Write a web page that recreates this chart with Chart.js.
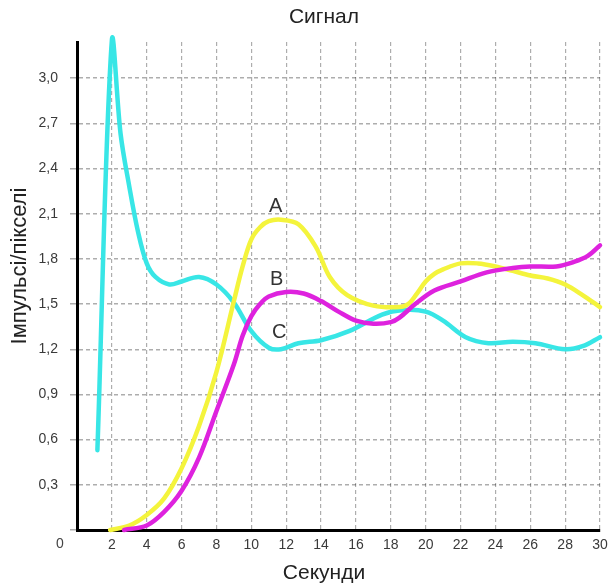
<!DOCTYPE html>
<html>
<head>
<meta charset="utf-8">
<script src="https://cdn.jsdelivr.net/npm/chart.js@4/dist/chart.umd.min.js"></script>
<style>
  body { margin: 0; background: #fff; }
  canvas { display: block; }
</style>
</head>
<body>
<canvas id="signal" width="608" height="587"></canvas>
<script>
// Curve A (yellow)
const timeA = [1.9, 3, 4, 5, 6, 7, 8, 9, 9.5, 10, 10.5, 11, 11.7, 12.7, 13.7, 14.5, 15.5, 17, 18.5, 19, 19.5, 20, 20.5, 21, 22, 23, 24, 25, 26, 27, 28, 29, 30];
const valuesA = [0, 0.03, 0.1, 0.21, 0.41, 0.69, 1.05, 1.52, 1.75, 1.93, 2.01, 2.05, 2.06, 2.03, 1.88, 1.68, 1.56, 1.49, 1.48, 1.5, 1.57, 1.65, 1.7, 1.73, 1.77, 1.77, 1.75, 1.72, 1.69, 1.67, 1.63, 1.56, 1.48];

// Curve B (magenta)
const timeB = [2.7, 4, 5, 6, 7, 8, 9, 9.5, 10, 10.5, 11, 12, 13, 14, 15, 16, 17, 18, 18.5, 19.4, 20.5, 22, 23.5, 25, 26, 27.5, 28.5, 29.3, 30];
const valuesB = [0, 0.03, 0.12, 0.26, 0.48, 0.79, 1.1, 1.29, 1.42, 1.5, 1.55, 1.58, 1.57, 1.52, 1.45, 1.39, 1.37, 1.38, 1.41, 1.5, 1.59, 1.65, 1.71, 1.74, 1.75, 1.75, 1.78, 1.82, 1.89];

// Curve C (cyan)
const timeC = [1.17, 2, 2.5, 3, 3.5, 4, 4.5, 5.3, 6, 7, 8, 9, 10, 11, 11.7, 12.7, 14, 15.6, 17.5, 18.7, 20, 21, 22.3, 23.6, 25, 26.3, 28, 29, 30];
const valuesC = [0.53, 3.25, 2.63, 2.28, 1.98, 1.77, 1.68, 1.63, 1.65, 1.68, 1.63, 1.51, 1.32, 1.21, 1.2, 1.24, 1.26, 1.32, 1.43, 1.46, 1.45, 1.39, 1.28, 1.24, 1.25, 1.24, 1.2, 1.22, 1.28];

const curveNames = ['A', 'B', 'C'];

const pairs = (xs, ys) => xs.map((x, i) => ({ x: x, y: ys[i] }));

const fontFamily = '"Liberation Sans", Arial, sans-serif';

// texts that sit outside the scales' own boxes, plus the curve letters
const textPlugin = {
    id: 'texts',
    afterDraw(chart) {
        const ctx = chart.ctx;
        const xs = chart.scales.x;
        const ys = chart.scales.y;
        ctx.save();
        ctx.textAlign = 'center';
        ctx.textBaseline = 'middle';

        ctx.fillStyle = '#222';
        ctx.font = '21px ' + fontFamily;
        ctx.fillText('Сигнал', 324, 17);
        ctx.fillText('Секунди', 324, 573);

        ctx.save();
        ctx.translate(20, 266);
        ctx.rotate(-Math.PI / 2);
        ctx.font = '22px ' + fontFamily;
        ctx.fillText('Імпульсі/пікселі', 0, 0);
        ctx.restore();

        ctx.fillStyle = '#444';
        ctx.font = '14px ' + fontFamily;
        ctx.fillText('0', xs.getPixelForValue(0) - 17, ys.getPixelForValue(0) + 14);

        // letters next to the curves
        const spots = [[11.4, 2.15], [11.45, 1.66], [11.6, 1.31]];
        ctx.fillStyle = '#333';
        ctx.font = '20px ' + fontFamily;
        curveNames.forEach((name, i) => {
            ctx.fillText(name, xs.getPixelForValue(spots[i][0]), ys.getPixelForValue(spots[i][1]));
        });
        ctx.restore();
    }
};

const lineStyle = {
    showLine: true,
    pointRadius: 0,
    borderWidth: 4.5,
    tension: 0.35,
    borderCapStyle: 'round',
    borderJoinStyle: 'round',
    clip: false
};

const ctx = document.getElementById('signal').getContext('2d');
new Chart(ctx, {
    type: 'scatter',
    data: {
        datasets: [
            // first dataset ends up on top
            Object.assign({ label: 'B', data: pairs(timeB, valuesB), borderColor: '#de22de' }, lineStyle),
            Object.assign({ label: 'A', data: pairs(timeA, valuesA), borderColor: '#f4f43c' }, lineStyle),
            Object.assign({ label: 'C', data: pairs(timeC, valuesC), borderColor: '#38e6e6' }, lineStyle)
        ]
    },
    options: {
        responsive: false,
        animation: false,
        layout: { padding: { top: 42, right: 0 } },
        plugins: {
            legend: { display: false },
            tooltip: { enabled: false },
            title: { display: false }
        },
        scales: {
            x: {
                type: 'linear',
                min: 0,
                max: 30,
                afterFit: scale => {
                    scale.height = 57;
                    scale.paddingRight = 8; // let the "30" run off the edge like the original
                },
                border: { display: true, color: '#000', width: 3, dash: [4, 3] },
                grid: { color: 'rgba(0,0,0,0.32)', lineWidth: 1.2, drawTicks: false },
                ticks: {
                    stepSize: 2,
                    padding: 7,
                    color: '#3a3a3a',
                    font: { family: fontFamily, size: 14 },
                    callback: v => (v === 0 ? '' : String(v))
                }
            },
            y: {
                min: 0,
                max: 3.24,
                afterFit: scale => { scale.width = 77; },
                border: { display: true, color: '#000', width: 3, dash: [4, 3] },
                grid: { color: 'rgba(0,0,0,0.32)', lineWidth: 1.5, tickLength: 7 },
                ticks: {
                    stepSize: 0.3,
                    includeBounds: false,
                    padding: 12,
                    color: '#3a3a3a',
                    font: { family: fontFamily, size: 14 },
                    callback: v => (v === 0 ? '' : v.toFixed(1).replace('.', ','))
                }
            }
        }
    },
    plugins: [textPlugin]
});
</script>
</body>
</html>
